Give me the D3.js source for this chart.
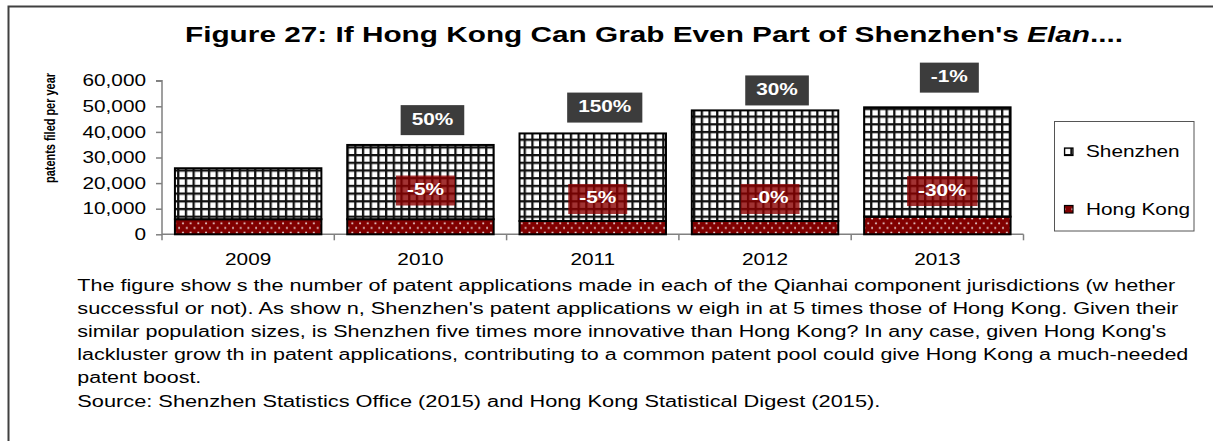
<!DOCTYPE html>
<html><head><meta charset="utf-8">
<script src="https://cdn.jsdelivr.net/npm/d3@7"></script>
<style>body{margin:0;background:#fff}svg{display:block;font-family:Arial,"Liberation Sans",sans-serif}</style>
</head><body><svg id="c" width="1213" height="441"></svg>
<script>
// ---- data ----
const years = ["2009", "2010", "2011", "2012", "2013"];
const hongKong = [5900, 5900, 5200, 5200, 6900];
const shenzhen = [19900, 29000, 34200, 43200, 42700];
const shenzhenGrowth = ["", "50%", "150%", "30%", "-1%"];
const hongKongGrowth = ["", "-5%", "-5%", "-0%", "-30%"];
const shenzhenLabelAt = [null, 44600, 49500, 56200, 61200];
const hongKongLabelAt = [null, 17100, 13800, 13800, 16900];
const yTicks = [0, 10000, 20000, 30000, 40000, 50000, 60000];
const seriesNames = ["Shenzhen", "Hong Kong"];
const yTitle = "patents filed per year";
const captionLines = [
  "The figure show s the number of patent applications made in each of the Qianhai component jurisdictions (w hether",
  "successful or not). As show n, Shenzhen's patent applications w eigh in at 5 times those of Hong Kong. Given their",
  "similar population sizes, is Shenzhen five times more innovative than Hong Kong? In any case, given Hong Kong's",
  "lackluster grow th in patent applications, contributing to a common patent pool could give Hong Kong a much-needed",
  "patent boost.",
  "Source: Shenzhen Statistics Office (2015) and Hong Kong Statistical Digest (2015)."
];
const captionWidths = [1098, 1101, 1089, 1111, 124, 803];

// ---- layout ----
const SX = 1.3; // horizontal glyph stretch of the original rendering
const svg = d3.select("#c");
const plotL = 162, plotR = 1023.5, plotT = 80.7, plotB = 234.3;

const x = d3.scaleBand().domain(years).range([plotL, plotR]).paddingInner(0.15).paddingOuter(0.075);
const y = d3.scaleLinear().domain([0, 60000]).range([plotB, plotT]);

// patterns
const defs = svg.append("defs");
const pg = defs.append("pattern").attr("id", "grid").attr("patternUnits", "userSpaceOnUse")
  .attr("width", 7.7).attr("height", 7.7);
pg.append("rect").attr("width", 7.7).attr("height", 7.7).attr("fill", "#fff");
pg.append("rect").attr("x", 0).attr("y", 0).attr("width", 2.3).attr("height", 7.7).attr("fill", "#111");
pg.append("rect").attr("x", 0).attr("y", 0).attr("width", 7.7).attr("height", 2.3).attr("fill", "#111");

const pd = defs.append("pattern").attr("id", "dots").attr("patternUnits", "userSpaceOnUse")
  .attr("width", 7.7).attr("height", 9.4);
pd.append("rect").attr("width", 7.7).attr("height", 9.4).attr("fill", "#800000");
pd.append("circle").attr("cx", 2).attr("cy", 2.3).attr("r", 1).attr("fill", "#fff").attr("opacity", 0.9);
pd.append("circle").attr("cx", 5.85).attr("cy", 7).attr("r", 1).attr("fill", "#fff").attr("opacity", 0.9);

// outer frame
svg.append("rect").attr("x", 8.5).attr("y", 6.5).attr("width", 1400).attr("height", 600)
  .attr("fill", "none").attr("stroke", "#404040").attr("stroke-width", 2);

// helper: stretched text
function stext(g, tx, ty, str, opts = {}) {
  return g.append("text")
    .attr("transform", `translate(${tx},${ty}) scale(${opts.sx || SX},1)`)
    .attr("text-anchor", opts.anchor || "start")
    .attr("font-size", opts.size || 16)
    .attr("font-weight", opts.weight || "normal")
    .attr("fill", opts.fill || "#000")
    .text(str);
}

// title
const title = svg.append("text").attr("x", 185).attr("y", 42).attr("font-size", 22).attr("font-weight", "bold")
  .attr("textLength", 938).attr("lengthAdjust", "spacingAndGlyphs");
title.append("tspan").text("Figure 27: If Hong Kong Can Grab Even Part of Shenzhen's ");
title.append("tspan").attr("font-style", "italic").text("Elan");
title.append("tspan").text("....");

// y axis
const yAxis = svg.append("g").attr("transform", `translate(${plotL},0)`)
  .call(d3.axisLeft(y).tickValues(yTicks).tickSize(6).tickFormat(d3.format(",")));
yAxis.selectAll("path,line").attr("stroke", "#808080").attr("stroke-width", 1.5);
yAxis.select(".domain").attr("d", `M-6,${plotT}H0V${plotB}`);
yAxis.selectAll("text").attr("font-size", 16).attr("font-family", "Arial, 'Liberation Sans', sans-serif")
  .attr("fill", "#000").attr("x", -16 / SX).attr("transform", `scale(${SX},1)`);

// y title
svg.append("text").attr("transform", `translate(55,128) rotate(-90)`)
  .attr("text-anchor", "middle").attr("font-size", 14).attr("font-weight", "bold")
  .attr("textLength", 110).attr("lengthAdjust", "spacingAndGlyphs").text(yTitle);

// x axis
const xAxis = svg.append("g");
xAxis.append("line").attr("x1", plotL).attr("x2", plotR).attr("y1", plotB).attr("y2", plotB)
  .attr("stroke", "#808080").attr("stroke-width", 1.5);
const bounds = years.map(d => x(d) - x.step() * x.paddingInner() / 2).concat([plotR]);
bounds[0] = plotL;
xAxis.selectAll("line.tk").data(bounds).join("line").attr("class", "tk")
  .attr("x1", d => d).attr("x2", d => d).attr("y1", plotB).attr("y2", plotB + 6)
  .attr("stroke", "#808080").attr("stroke-width", 1.5);
years.forEach(yr => stext(xAxis, x(yr) + x.bandwidth() / 2, 265, yr, { anchor: "middle" }));

// bars
const bars = svg.append("g");
years.forEach((yr, i) => {
  bars.append("rect").attr("x", x(yr)).attr("width", x.bandwidth())
    .attr("y", y(hongKong[i])).attr("height", y(0) - y(hongKong[i]))
    .attr("fill", "url(#dots)").attr("stroke", "#000").attr("stroke-width", 2);
  bars.append("rect").attr("x", x(yr)).attr("width", x.bandwidth())
    .attr("y", y(hongKong[i] + shenzhen[i])).attr("height", y(hongKong[i]) - y(hongKong[i] + shenzhen[i]))
    .attr("fill", "url(#grid)").attr("stroke", "#000").attr("stroke-width", 2);
});

// growth labels
function growthLabel(i, str, val, dx, fill, op) {
  if (!str) return;
  const cx = x(years[i]) + x.bandwidth() / 2 + dx, cy = y(val);
  const g = svg.append("g");
  const t = stext(g, cx, cy + 4.5, str, { anchor: "middle", weight: "bold", fill: "#fff" });
  const w = t.node().getComputedTextLength() * SX + 22;
  g.insert("rect", "text").attr("x", cx - w / 2).attr("y", cy - 15).attr("width", w).attr("height", 30)
    .attr("fill", fill).attr("fill-opacity", op);
}
years.forEach((yr, i) => {
  growthLabel(i, shenzhenGrowth[i], shenzhenLabelAt[i], 12, "#363636", 0.97);
  growthLabel(i, hongKongGrowth[i], hongKongLabelAt[i], 5, "#8b0000", 0.8);
});

// legend
const lg = svg.append("g");
lg.append("rect").attr("x", 1054.5).attr("y", 121.5).attr("width", 139.5).attr("height", 109.5)
  .attr("fill", "#fff").attr("stroke", "#555").attr("stroke-width", 1);
const legendFills = ["url(#grid)", "url(#dots)"];
const legendY = [151.5, 209];
seriesNames.forEach((n, i) => {
  lg.append("rect").attr("x", 1064.5).attr("y", legendY[i] - 3.5).attr("width", 8.5).attr("height", 7.5)
    .attr("fill", legendFills[i]).attr("stroke", "#000").attr("stroke-width", 1.2);
  stext(lg, 1086, legendY[i] + 5.5, n);
});

// caption
const cap = svg.append("g");
captionLines.forEach((ln, i) => {
  cap.append("text").attr("x", 77.3).attr("y", 290.5 + i * 23.2).attr("font-size", 16)
    .attr("textLength", captionWidths[i]).attr("lengthAdjust", "spacingAndGlyphs").text(ln);
});
</script></body></html>
